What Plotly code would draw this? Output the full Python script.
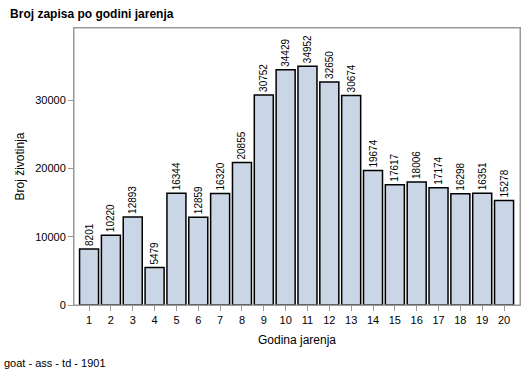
import plotly.graph_objects as go

years = list(range(1, 21))
counts = [8201, 10220, 12893, 5479, 16344, 12859, 16320, 20855, 30752, 34429,
          34952, 32650, 30674, 19674, 17617, 18006, 17174, 16298, 16351, 15278]
tick_labels = [str(y) for y in years]
y_ticks = [0, 10000, 20000, 30000]

fig = go.Figure(go.Bar(
    x=years, y=counts,
    marker=dict(color="#CAD5E5", line=dict(color="black", width=1.5)),
    width=0.87,
    text=[str(c) for c in counts], textposition="outside", textangle=-90,
    textfont=dict(family="Arial, Liberation Sans", size=10, color="black"),
    cliponaxis=False,
))

fig.update_layout(
    width=529, height=378,
    margin=dict(l=74, r=9, t=28, b=73),
    paper_bgcolor="white", plot_bgcolor="white",
    font=dict(family="Arial, Liberation Sans", size=11, color="black"),
    showlegend=False,
    title=dict(text="<b>Broj zapisa po godini jarenja</b>", x=0.019, xanchor="left",
               y=0.963, yanchor="middle", font=dict(size=12)),
    annotations=[dict(text="goat - ass - td - 1901", xref="paper", yref="paper",
                      x=-0.161, y=-0.21, xanchor="left", yanchor="middle",
                      showarrow=False, font=dict(size=11))],
    uniformtext=dict(minsize=10, mode="show"),
    shapes=[dict(type="rect", xref="paper", yref="paper", x0=0, y0=0, x1=1, y1=1,
                 line=dict(color="#999999", width=1), layer="above")],
)
fig.update_xaxes(
    range=[0.31, 20.73], tickmode="array", tickvals=years, ticktext=tick_labels,
    showline=True, linecolor="#999999", linewidth=1, mirror=True,
    ticks="outside", ticklen=5, tickcolor="#999999", showgrid=False, zeroline=False,
    title=dict(text="Godina jarenja", standoff=10, font=dict(size=12)),
)
fig.update_yaxes(
    range=[0, 40540], tickmode="array", tickvals=y_ticks,
    ticktext=[str(v) for v in y_ticks],
    showline=True, linecolor="#999999", linewidth=1, mirror=True,
    ticks="outside", ticklen=5, tickcolor="#999999", showgrid=False, zeroline=False,
    title=dict(text="Broj životinja", standoff=8, font=dict(size=12)),
)

fig.write_html("out.html", config={"displayModeBar": False},
               post_script="document.body.style.margin='0';")
